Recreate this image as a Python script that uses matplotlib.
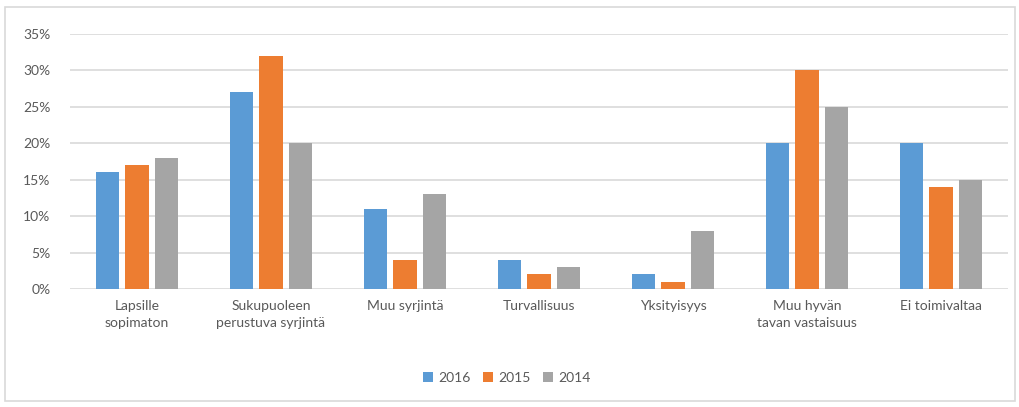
import matplotlib
matplotlib.use("Agg")
import matplotlib.pyplot as plt
import numpy as np
from matplotlib.patches import Rectangle

categories = ["Lapsille\nsopimaton", "Sukupuoleen\nperustuva syrjintä", "Muu syrjintä",
              "Turvallisuus", "Yksityisyys", "Muu hyvän\ntavan vastaisuus", "Ei toimivaltaa"]
series_names = ["2016", "2015", "2014"]
v2016 = [16, 27, 11, 4, 2, 20, 20]
v2015 = [17, 32, 4, 2, 1, 30, 14]
v2014 = [18, 20, 13, 3, 8, 25, 15]
yticks = [0, 5, 10, 15, 20, 25, 30, 35]
colors = ["#5B9BD5", "#ED7D31", "#A5A5A5"]

plt.rcParams['font.family'] = ['Lato', 'DejaVu Sans']
txt = "#595959"

fig = plt.figure(figsize=(10.2, 4.07), dpi=100)
ax = fig.add_axes([70/1020, 1-289/407, (1008-70)/1020, (289-34)/407])

x = np.arange(len(categories))
w = 0.172
step = 0.222
for i, (vals, name) in enumerate(zip([v2016, v2015, v2014], series_names)):
    ax.bar(x + (i-1)*step, vals, width=w, color=colors[i], label=name, zorder=3)

ax.set_xlim(-0.5, len(categories)-0.5)
ax.set_ylim(0, 35)
ax.set_yticks(yticks)
ax.set_yticklabels([f"{t}%" for t in yticks], color=txt, fontsize=10)
ax.set_xticks(x)
ax.set_xticklabels(categories, color=txt, fontsize=10, linespacing=1.5, va='top')
ax.tick_params(axis='both', length=0)
ax.tick_params(axis='x', pad=8)
ax.tick_params(axis='y', pad=14)
ax.grid(axis='y', color='#D9D9D9', linewidth=1.2, zorder=0)
for s in ax.spines.values():
    s.set_visible(False)

leg = fig.legend(loc='center', bbox_to_anchor=(507/1020, 1-378/407), ncol=3, frameon=False,
                 fontsize=10, handlelength=0.7, handleheight=0.7, handletextpad=0.4,
                 columnspacing=0.9)
for t in leg.get_texts():
    t.set_color(txt)

fig.patches.append(Rectangle((5/1020, 1-401/407), 1010/1020, 394/407, transform=fig.transFigure,
                             fill=False, edgecolor='#D9D9D9', linewidth=1.2))

fig.savefig("out.png", dpi=100, facecolor='white')
